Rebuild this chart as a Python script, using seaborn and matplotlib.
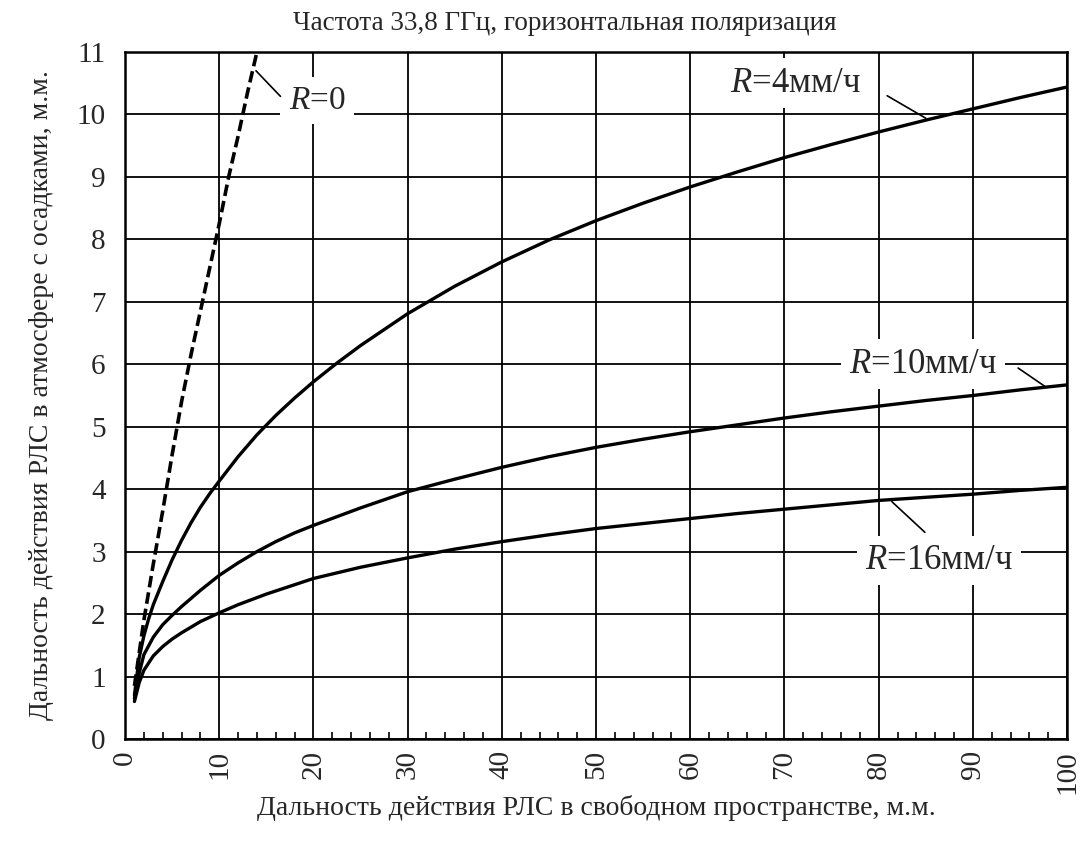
import numpy as np
import pandas as pd
import matplotlib
matplotlib.use("Agg")
import matplotlib.pyplot as plt
import seaborn as sns

# ---- data ----
title = "Частота 33,8 ГГц, горизонтальная поляризация"
xlabel = "Дальность действия РЛС в свободном пространстве, м.м."
ylabel = "Дальность действия РЛС в атмосфере с осадками, м.м."

x_r0 = [1, 2, 3, 4, 5, 6, 7, 8, 9, 10, 11, 12, 13, 14]
y_r0 = [0.85, 1.9, 2.8, 3.65, 4.55, 5.4, 6.15, 6.85, 7.55, 8.25, 9.0, 9.65, 10.35, 11.0]

x_r4 = [1, 1.5, 2, 2.5, 3, 4, 5, 6, 7, 8, 9, 10, 12, 14, 16, 18, 20, 22.5, 25, 30, 35, 40, 45, 50,
        55, 60, 65, 70, 75, 80, 85, 90, 95, 100]
y_r4 = [0.7, 1.3, 1.65, 1.92, 2.15, 2.52, 2.87, 3.18, 3.46, 3.71, 3.93, 4.13, 4.52, 4.87, 5.18, 5.46,
        5.72, 6.02, 6.3, 6.81, 7.25, 7.64, 7.99, 8.3, 8.58, 8.84, 9.08, 9.31, 9.52, 9.72, 9.91,
        10.09, 10.27, 10.44]

x_r10 = [1, 1.5, 2, 3, 4, 5, 6, 7, 8, 9, 10, 12, 14, 16, 18, 20, 25, 30, 35, 40, 45, 50,
         55, 60, 65, 70, 75, 80, 85, 90, 95, 100]
y_r10 = [0.65, 1.05, 1.35, 1.63, 1.83, 1.98, 2.12, 2.25, 2.38, 2.5, 2.62, 2.82, 3.0, 3.16, 3.3,
         3.42, 3.7, 3.96, 4.16, 4.35, 4.52, 4.67, 4.8, 4.92, 5.03, 5.14, 5.24, 5.33, 5.42, 5.5,
         5.59, 5.67]

x_r16 = [1, 1.5, 2, 3, 4, 5, 6, 7, 8, 9, 10, 12, 15, 20, 25, 30, 35, 40, 45, 50,
         55, 60, 65, 70, 75, 80, 85, 90, 95, 100]
y_r16 = [0.6, 0.9, 1.1, 1.33, 1.48, 1.6, 1.7, 1.79, 1.88, 1.95, 2.02, 2.15, 2.32, 2.57, 2.75, 2.9,
         3.04, 3.16, 3.27, 3.37, 3.45, 3.53, 3.61, 3.68, 3.75, 3.82, 3.87, 3.92, 3.98, 4.03]

x_ticks = [0, 10, 20, 30, 40, 50, 60, 70, 80, 90, 100]
y_ticks = [0, 1, 2, 3, 4, 5, 6, 7, 8, 9, 10, 11]

labels = ["$R$=0", "$R$=4мм/ч", "$R$=10мм/ч", "$R$=16мм/ч"]

# ---- style ----
sns.set_theme(style="white")
plt.rcParams["font.family"] = ["Liberation Serif", "DejaVu Serif"]
plt.rcParams["mathtext.fontset"] = "custom"
plt.rcParams["mathtext.rm"] = "Liberation Serif"
plt.rcParams["mathtext.it"] = "Liberation Serif:italic"
plt.rcParams["lines.dashed_pattern"] = [3.2, 1.4]

fig = plt.figure(figsize=(10.9, 8.46), dpi=100)
ax = fig.add_axes([0.1147, 0.1265, 0.979 - 0.1147, 0.9385 - 0.1265])

sns.lineplot(x=x_r0, y=y_r0, ax=ax, color="black", lw=2.6, linestyle="--", zorder=5)
sns.lineplot(x=x_r4, y=y_r4, ax=ax, color="black", lw=2.4, zorder=5)
sns.lineplot(x=x_r10, y=y_r10, ax=ax, color="black", lw=2.4, zorder=5)
sns.lineplot(x=x_r16, y=y_r16, ax=ax, color="black", lw=2.4, zorder=5)

ax.set_xlim(0, 100)
ax.set_ylim(0, 11)
ax.set_xticks(x_ticks)
ax.set_yticks(y_ticks)
ax.set_xticks(np.arange(0, 101, 2), minor=True)
ax.grid(True, which="major", color="black", lw=1.3)
ax.set_axisbelow(True)
ax.tick_params(axis="both", which="major", length=0, labelsize=21, pad=14)
ax.tick_params(axis="x", which="major", labelrotation=90, pad=8)
ax.tick_params(axis="x", which="minor", direction="in", length=5, width=1.2, color="black", bottom=True)
for s in ax.spines.values():
    s.set_color("black")
    s.set_linewidth(1.8)

ax.set_xlabel(xlabel, fontsize=20, labelpad=1)
ax.set_ylabel(ylabel, fontsize=20, labelpad=16)
fig.text(0.518, 0.972, title, ha="center", va="center", fontsize=19.5)

bbox = dict(facecolor="white", edgecolor="none", pad=6)
ax.text(20.4, 10.22, labels[0], fontsize=24, ha="center", va="center", bbox=bbox, zorder=6)
ax.text(71.2, 10.5, labels[1], fontsize=25, ha="center", va="center", bbox=bbox, zorder=6)
ax.text(84.7, 6.0, labels[2], fontsize=25, ha="center", va="center", bbox=bbox, zorder=6)
ax.text(86.4, 2.86, labels[3], fontsize=25, ha="center", va="center", bbox=bbox, zorder=6)

# leader lines
ax.plot([13.9, 16.5], [10.7, 10.29], color="black", lw=1.2, zorder=7)
ax.plot([80.9, 85.0], [10.3, 9.94], color="black", lw=1.2, zorder=7)
ax.plot([94.8, 97.7], [5.94, 5.64], color="black", lw=1.2, zorder=7)
ax.plot([81.4, 84.9], [3.80, 3.31], color="black", lw=1.2, zorder=7)

fig.savefig("out.png", dpi=100, facecolor="white")
